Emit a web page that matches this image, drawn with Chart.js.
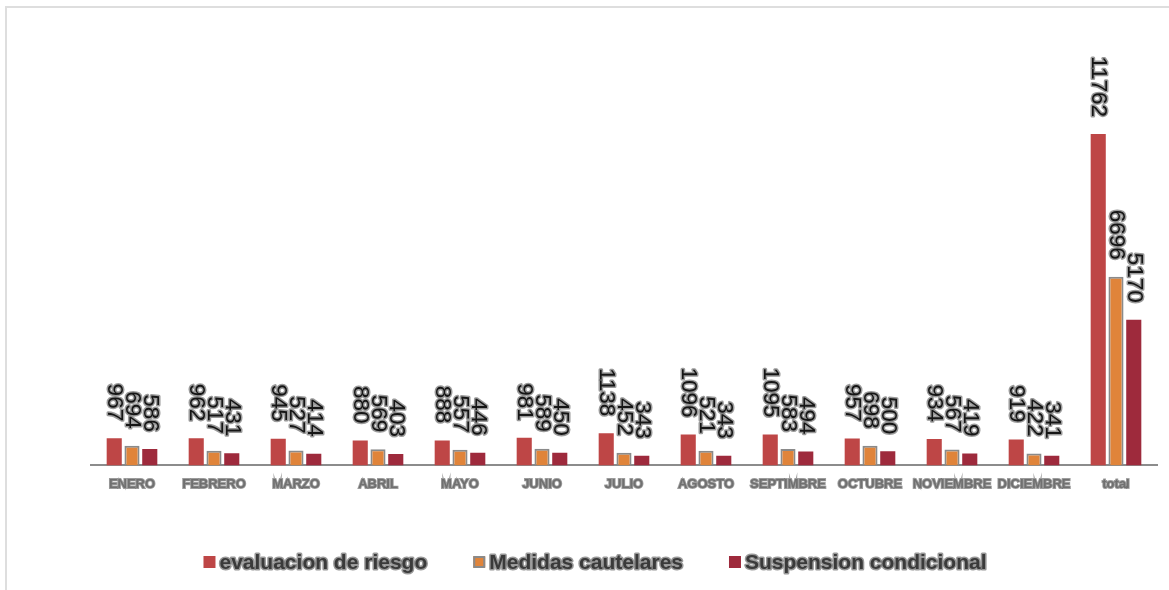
<!DOCTYPE html>
<html>
<head>
<meta charset="utf-8">
<script src="https://cdn.jsdelivr.net/npm/chart.js@4.4.1/dist/chart.umd.min.js"></script>
<style>
  html,body{margin:0;padding:0;background:#fff;}
  #wrap{position:relative;width:1169px;height:590px;}
  #frame{position:absolute;left:5px;top:6px;right:0;bottom:0;border-top:2px solid #dedede;border-left:2px solid #dedede;pointer-events:none;}
  canvas{position:absolute;left:0;top:0;}
</style>
</head>
<body>
<div id="wrap">
  <canvas id="c" width="1169" height="590"></canvas>
  <div id="frame"></div>
</div>
<script>
const categories = ["ENERO","FEBRERO","MARZO","ABRIL","MAYO","JUNIO","JULIO","AGOSTO","SEPTIMBRE","OCTUBRE","NOVIEMBRE","DICIEMBRE","total"];
const evaluacion = [967, 962, 945, 880, 888, 981, 1138, 1096, 1095, 957, 934, 919, 11762];
const medidas = [694, 517, 527, 569, 557, 589, 452, 521, 583, 698, 567, 422, 6696];
const suspension = [586, 431, 414, 403, 446, 450, 343, 343, 494, 500, 419, 341, 5170];
const seriesNames = ["evaluacion de riesgo", "Medidas cautelares", "Suspension condicional"];

const colors = ["#BE4646", "#E0843A", "#9E2A3C"];

const labelPlugin = {
  id: 'rotLabels',
  afterDatasetsDraw(chart) {
    const ctx = chart.ctx;
    ctx.save();
    ctx.font = '22.5px "Liberation Sans", Arial, sans-serif';
    ctx.textAlign = 'right';
    ctx.textBaseline = 'middle';
    ctx.lineJoin = 'round';
    chart.data.datasets.forEach((ds, di) => {
      const meta = chart.getDatasetMeta(di);
      meta.data.forEach((bar, i) => {
        const txt = String(ds.data[i]);
        ctx.save();
        ctx.translate(bar.x, bar.y - 17);
        ctx.rotate(Math.PI / 2);
        ctx.strokeStyle = 'rgba(120,120,120,0.75)';
        ctx.lineWidth = 3;
        ctx.strokeText(txt, 0, 0);
        ctx.fillStyle = '#151515';
        ctx.fillText(txt, 0, 0);
        ctx.restore();
      });
    });
    ctx.restore();
  }
};

const legendPlugin = {
  id: 'customLegend',
  afterDraw(chart) {
    const ctx = chart.ctx;
    ctx.save();
    ctx.font = 'bold 21px "Liberation Sans", Arial, sans-serif';
    ctx.textBaseline = 'middle';
    ctx.textAlign = 'left';
    ctx.lineJoin = 'round';
    const box = 12, gapText = 4, gapItem = 46;
    const widths = chart.data.datasets.map(ds => box + gapText + ctx.measureText(ds.label).width);
    const total = widths.reduce((a, b) => a + b, 0) + gapItem * (widths.length - 1);
    let x = 595 - total / 2;
    const y = 562;
    chart.data.datasets.forEach((ds, i) => {
      ctx.fillStyle = ds.backgroundColor;
      ctx.fillRect(x, y - box / 2, box, box);
      if (ds.borderWidth) {
        ctx.strokeStyle = ds.borderColor;
        ctx.lineWidth = 2;
        ctx.strokeRect(x + 1, y - box / 2 + 1, box - 2, box - 2);
      }
      const tx = x + box + gapText;
      ctx.strokeStyle = 'rgba(110,110,110,0.7)';
      ctx.lineWidth = 3;
      ctx.strokeText(ds.label, tx, y + 1);
      ctx.fillStyle = '#3a3a3a';
      ctx.fillText(ds.label, tx, y + 1);
      x += widths[i] + gapItem;
    });
    ctx.restore();
  }
};

new Chart(document.getElementById('c'), {
  type: 'bar',
  data: {
    labels: categories,
    datasets: [
      { label: seriesNames[0], data: evaluacion, backgroundColor: colors[0], borderWidth: 0 },
      { label: seriesNames[1], data: medidas, backgroundColor: colors[1], borderColor: '#8a8a8a', borderWidth: 2 },
      { label: seriesNames[2], data: suspension, backgroundColor: colors[2], borderWidth: 0 }
    ]
  },
  options: {
    responsive: false,
    animation: false,
    layout: { padding: { left: 91, right: 12, top: 71, bottom: 87 } },
    datasets: { bar: { categoryPercentage: 0.65, barPercentage: 0.85 } },
    plugins: { legend: { display: false }, tooltip: { enabled: false } },
    scales: {
      y: { display: false, min: 0, max: 14000 },
      x: {
        grid: { display: false, drawTicks: false },
        border: { display: true, color: '#8c8c8c', width: 2 },
        ticks: {
          padding: 11,
          maxRotation: 0,
          autoSkip: false,
          color: '#707070',
          textStrokeColor: 'rgba(90,90,90,0.6)',
          textStrokeWidth: 1.8,
          font: { family: '"Liberation Sans", Arial, sans-serif', size: 13, weight: 'bold' }
        }
      }
    }
  },
  plugins: [labelPlugin, legendPlugin]
});
</script>
</body>
</html>
